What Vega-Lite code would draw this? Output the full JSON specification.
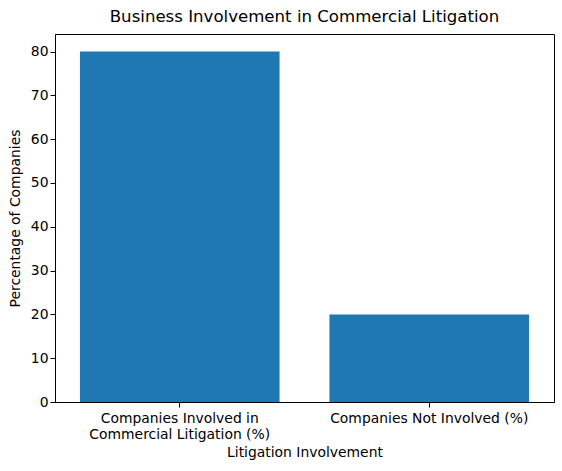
{
  "$schema": "https://vega.github.io/schema/vega-lite/v6.json",
  "autosize": {"type": "none"},
  "padding": {"left": 55, "top": 34, "right": 8, "bottom": 69},
  "width": 499,
  "height": 368,
  "title": {
    "text": "Business Involvement in Commercial Litigation",
    "font": "DejaVu Sans",
    "fontSize": 16.6,
    "fontWeight": "normal",
    "color": "black",
    "offset": 8
  },
  "data": {
    "values": [
      {"involvement": "Companies Involved in Commercial Litigation (%)", "percentage": 80},
      {"involvement": "Companies Not Involved (%)", "percentage": 20}
    ]
  },
  "config": {
    "view": {"stroke": "black", "strokeWidth": 1},
    "axis": {
      "labelFont": "DejaVu Sans",
      "labelFontSize": 13.9,
      "labelColor": "black",
      "labelLimit": 0,
      "titleFont": "DejaVu Sans",
      "titleFontSize": 13.9,
      "titleFontWeight": "normal",
      "titleColor": "black",
      "domainColor": "black",
      "tickColor": "black",
      "tickSize": 5,
      "grid": false
    }
  },
  "mark": {"type": "bar", "color": "#1f77b4"},
  "encoding": {
    "x": {
      "field": "involvement",
      "type": "nominal",
      "sort": null,
      "title": "Litigation Involvement",
      "scale": {"paddingInner": 0.2, "paddingOuter": 0.1},
      "axis": {
        "labelAngle": 0,
        "labelPadding": 4,
        "labelLineHeight": 16,
        "titlePadding": 5,
        "labelExpr": "datum.value == 'Companies Involved in Commercial Litigation (%)' ? ['Companies Involved in', 'Commercial Litigation (%)'] : datum.value"
      }
    },
    "y": {
      "field": "percentage",
      "type": "quantitative",
      "title": "Percentage of Companies",
      "scale": {"domain": [0, 84], "nice": false},
      "axis": {"values": [0, 10, 20, 30, 40, 50, 60, 70, 80], "titlePadding": 8}
    }
  }
}
